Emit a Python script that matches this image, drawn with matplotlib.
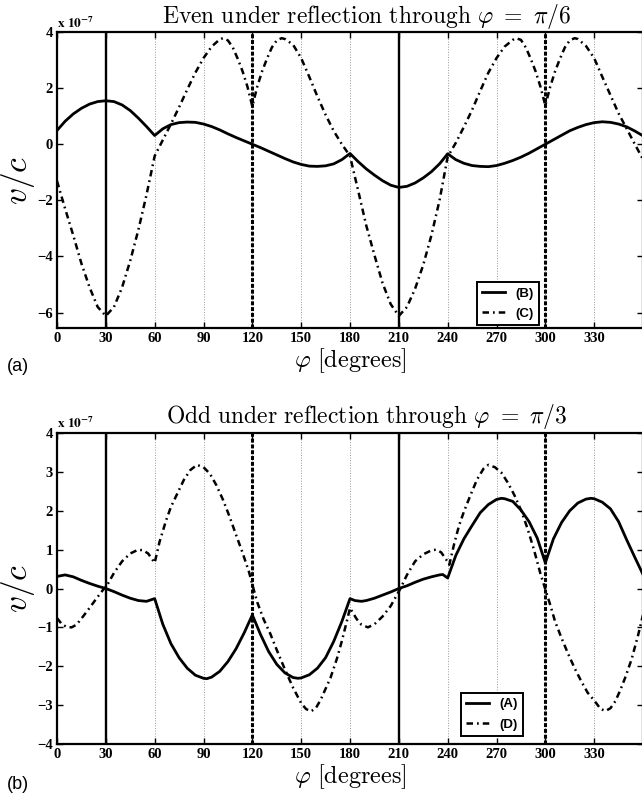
import matplotlib
matplotlib.use('Agg')
import matplotlib.pyplot as plt

plt.rcParams['mathtext.fontset'] = 'cm'
plt.rcParams['font.family'] = 'Liberation Serif'
plt.rcParams['font.weight'] = 'bold'
plt.rcParams['axes.unicode_minus'] = True

# --- panel (a): even under reflection through phi = pi/6 (units of 1e-7) ---
phi_b = [0, 5, 10, 15, 20, 25, 30, 35, 40, 45, 50, 55, 60,
         65, 70, 75, 80, 85, 90, 95, 100, 105, 110, 115, 120,
         125, 130, 135, 140, 145, 150, 155, 160, 165, 170, 175, 180,
         185, 190, 195, 200, 205, 210, 215, 220, 225, 230, 235, 240,
         245, 250, 255, 260, 265, 270, 275, 280, 285, 290, 295, 300,
         305, 310, 315, 320, 325, 330, 335, 340, 345, 350, 355, 360]
v_b = [0.49, 0.82, 1.08, 1.28, 1.43, 1.52, 1.55, 1.52, 1.40, 1.20, 0.93, 0.63, 0.31,
       0.55, 0.70, 0.77, 0.79, 0.78, 0.72, 0.63, 0.51, 0.37, 0.24, 0.12, 0.00,
       -0.12, -0.25, -0.38, -0.51, -0.63, -0.72, -0.78, -0.79, -0.77, -0.70, -0.55, -0.33,
       -0.62, -0.88, -1.10, -1.30, -1.46, -1.54, -1.50, -1.38, -1.20, -0.98, -0.70, -0.34,
       -0.55, -0.68, -0.76, -0.79, -0.80, -0.76, -0.68, -0.58, -0.46, -0.32, -0.16, 0.00,
       0.16, 0.32, 0.48, 0.60, 0.70, 0.77, 0.80, 0.78, 0.72, 0.62, 0.47, 0.30]

phi_c = [0, 5, 10, 15, 20, 25, 30, 35, 40, 45, 50, 55, 60,
         65, 70, 75, 80, 85, 90, 95, 100, 102, 105, 108, 111, 114, 117, 120,
         123, 126, 129, 132, 135, 138, 140, 145, 150, 155, 160, 165, 170, 175, 180,
         185, 190, 195, 200, 205, 210, 215, 220, 225, 230, 235, 240,
         245, 250, 255, 260, 265, 270, 275, 280, 282, 285, 288, 291, 294, 297, 300,
         303, 306, 309, 312, 315, 318, 320, 325, 330, 335, 340, 345, 350, 355, 360]
v_c = [-1.31, -2.30, -3.25, -4.25, -5.10, -5.80, -6.12, -5.80, -5.10, -4.15, -3.05, -1.80, -0.42,
       0.15, 0.72, 1.32, 1.95, 2.55, 3.07, 3.48, 3.74, 3.78, 3.70, 3.45, 3.05, 2.60, 2.05, 1.35,
       2.05, 2.60, 3.05, 3.45, 3.70, 3.78, 3.75, 3.55, 3.07, 2.40, 1.70, 1.05, 0.47, 0.00, -0.42,
       -1.65, -2.90, -3.95, -4.95, -5.70, -6.12, -5.80, -5.15, -4.30, -3.25, -2.00, -0.45,
       0.05, 0.62, 1.22, 1.90, 2.55, 3.07, 3.48, 3.72, 3.78, 3.72, 3.45, 3.05, 2.60, 2.05, 1.38,
       2.05, 2.60, 3.05, 3.45, 3.70, 3.78, 3.75, 3.50, 3.07, 2.40, 1.75, 1.10, 0.55, 0.00, -0.54]

# --- panel (b): odd under reflection through phi = pi/3 (units of 1e-7) ---
phi_a = [0, 5, 10, 15, 20, 25, 30, 35, 40, 45, 50, 55, 60,
         65, 70, 75, 80, 85, 90, 92, 95, 100, 105, 110, 115, 120,
         125, 130, 135, 140, 145, 148, 150, 155, 160, 165, 170, 175, 180,
         183, 187, 190, 195, 200, 205, 210, 215, 220, 225, 230, 235, 237, 240,
         245, 250, 255, 260, 265, 270, 273, 275, 280, 285, 290, 295, 300,
         305, 310, 315, 320, 325, 328, 330, 335, 340, 345, 350, 355, 360]
v_a = [0.31, 0.35, 0.30, 0.21, 0.13, 0.06, 0.00, -0.08, -0.17, -0.25, -0.31, -0.33, -0.26,
       -0.92, -1.42, -1.78, -2.05, -2.23, -2.31, -2.32, -2.28, -2.13, -1.88, -1.55, -1.14, -0.68,
       -1.18, -1.62, -1.95, -2.17, -2.29, -2.31, -2.30, -2.22, -2.05, -1.78, -1.36, -0.85, -0.26,
       -0.31, -0.33, -0.31, -0.25, -0.17, -0.09, 0.00, 0.07, 0.16, 0.24, 0.30, 0.35, 0.36, 0.27,
       0.85, 1.28, 1.62, 1.95, 2.16, 2.29, 2.32, 2.31, 2.24, 2.02, 1.72, 1.30, 0.66,
       1.28, 1.70, 2.00, 2.20, 2.30, 2.32, 2.31, 2.22, 2.05, 1.72, 1.25, 0.80, 0.36]

phi_d = [0, 3, 6, 9, 12, 16, 20, 24, 28, 31, 35, 40, 45, 50, 53, 56, 60,
         63, 67, 70, 74, 78, 82, 86, 90, 94, 98, 102, 106, 110, 114, 118, 120,
         123, 127, 131, 135, 140, 145, 150, 153, 156, 159, 162, 165, 168, 172, 175, 178, 180,
         184, 187, 191, 195, 200, 205, 211, 215, 220, 225, 230, 233, 236, 239, 241,
         244, 247, 250, 254, 258, 262, 265, 269, 273, 277, 281, 285, 289, 293, 297, 300,
         303, 306, 310, 314, 318, 322, 326, 330, 334, 337, 340, 343, 346, 349, 353, 357, 360]
v_d = [-0.76, -0.92, -0.99, -1.00, -0.93, -0.72, -0.50, -0.27, -0.05, 0.10, 0.40, 0.70, 0.90, 1.00, 0.98, 0.90, 0.66,
       1.20, 1.75, 2.10, 2.45, 2.80, 3.05, 3.18, 3.12, 2.95, 2.65, 2.28, 1.85, 1.38, 0.92, 0.42, 0.10,
       -0.35, -0.80, -1.16, -1.58, -2.08, -2.55, -2.95, -3.10, -3.16, -3.08, -2.86, -2.58, -2.30, -1.80, -1.35, -0.85, -0.50,
       -0.78, -0.93, -1.00, -0.92, -0.72, -0.45, 0.00, 0.35, 0.70, 0.88, 0.98, 1.00, 0.93, 0.75, 0.61,
       1.15, 1.62, 1.98, 2.40, 2.80, 3.08, 3.18, 3.12, 2.98, 2.72, 2.40, 2.02, 1.55, 1.00, 0.38, -0.02,
       -0.42, -0.85, -1.28, -1.68, -2.05, -2.38, -2.68, -2.88, -3.10, -3.15, -3.08, -2.90, -2.62, -2.30, -1.82, -1.20, -0.68]

# reference angles
solid_marks = [30, 210]
dashed_marks = [120, 300]
xticks = list(range(0, 360, 30))
yticks_top = [-6, -4, -2, 0, 2, 4]
yticks_bot = [-4, -3, -2, -1, 0, 1, 2, 3, 4]

DASHDOT = (0, (2.6, 1.6, 0.7, 1.6))

fig = plt.figure(figsize=(6.42, 7.97), dpi=100)
W, H = 642.0, 797.0


def make_axes(left, top, right, bottom):
    return fig.add_axes([left / W, 1 - bottom / H, (right - left) / W, (bottom - top) / H])


def style(ax, ylim, yticks, title, letter):
    ax.set_xlim(0, 360)
    ax.set_ylim(*ylim)
    ax.set_xticks(xticks)
    ax.set_yticks(yticks)
    ax.grid(axis='x', linestyle=':', color='0.6', linewidth=0.7)
    ax.set_axisbelow(True)
    for x in solid_marks:
        ax.axvline(x, color='k', linewidth=1.7, zorder=3)
    for x in dashed_marks:
        ax.axvline(x, color='k', linewidth=2.2, linestyle=(0, (1.3, 0.6)), zorder=3)
    ax.tick_params(direction='in', length=4, width=1, top=True, right=True,
                   labelsize=10.5, pad=3)
    for s in ax.spines.values():
        s.set_linewidth(1.6)
    ax.set_xlabel(r'$\varphi\ \mathrm{[degrees]}$', fontsize=17.5, labelpad=1)
    ax.set_ylabel(r'$v/c$', fontsize=24)
    ax.yaxis.set_label_coords(-0.034, 0.5)
    ax.text(0.529, 1.005, title, transform=ax.transAxes, ha='center', va='bottom',
            fontsize=17)
    ax.text(0.0, 1.005, r'$\mathbf{x\ 10^{-7}}$', transform=ax.transAxes,
            ha='left', va='bottom', fontsize=9.5, math_fontfamily='stix')
    ax.text(-0.085, -0.13, letter, transform=ax.transAxes, ha='left', va='center',
            fontsize=13, family='Liberation Sans', fontweight='normal')


legend_font = {'family': 'Liberation Sans', 'weight': 'bold', 'size': 9.5}

# Panel (a)
ax = make_axes(57, 32, 643, 328)
ax.plot(phi_b, v_b, color='k', linewidth=2.0, label='(B)', zorder=4)
ax.plot(phi_c, v_c, color='k', linewidth=1.8, linestyle=DASHDOT, label='(C)', zorder=4)
style(ax, (-6.55, 4), yticks_top,
      r'$\mathrm{Even\ under\ reflection\ through}\ \varphi\ =\ \pi/6$', '(a)')
leg = ax.legend(loc='lower right', bbox_to_anchor=(0.822, 0.01), prop=legend_font,
                fancybox=False, framealpha=1, edgecolor='k', handlelength=1.7,
                handletextpad=0.8, borderpad=0.4, labelspacing=0.6,
                borderaxespad=0)
leg.get_frame().set_linewidth(1.4)

# Panel (b)
ax = make_axes(57, 433, 643, 744)
ax.plot(phi_a, v_a, color='k', linewidth=2.0, label='(A)', zorder=4)
ax.plot(phi_d, v_d, color='k', linewidth=1.8, linestyle=DASHDOT, label='(D)', zorder=4)
style(ax, (-4, 4), yticks_bot,
      r'$\mathrm{Odd\ under\ reflection\ through}\ \varphi\ =\ \pi/3$', '(b)')
leg = ax.legend(loc='lower right', bbox_to_anchor=(0.795, 0.026), prop=legend_font,
                fancybox=False, framealpha=1, edgecolor='k', handlelength=1.7,
                handletextpad=0.8, borderpad=0.4, labelspacing=0.6,
                borderaxespad=0)
leg.get_frame().set_linewidth(1.4)

fig.savefig('out.png', dpi=100)
plt.close(fig)
